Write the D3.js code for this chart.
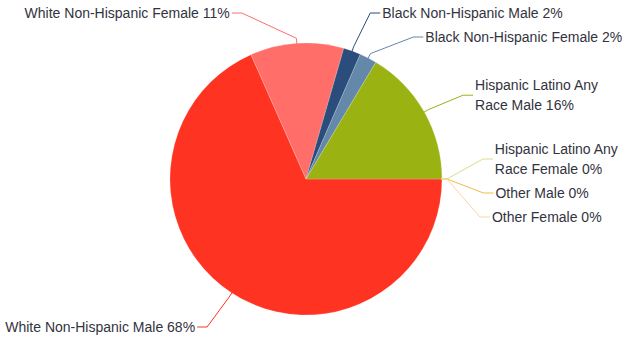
<!DOCTYPE html>
<html><head><meta charset="utf-8">
<script src="https://cdn.jsdelivr.net/npm/d3@7"></script>
<style>body{margin:0;background:#fff}svg{display:block}</style>
</head><body>
<svg id="c" width="624" height="341"></svg>
<script>
const categories = ["Hispanic Latino Any Race Female","Other Male","Other Female","White Non-Hispanic Male","White Non-Hispanic Female","Black Non-Hispanic Male","Black Non-Hispanic Female","Hispanic Latino Any Race Male"];
const values = [0, 0, 0, 68.3, 11.1, 2.05, 2.05, 16.4];
const colors = ["#d4df8c","#f0bd45","#f7d8a2","#ff3322","#ff6e69","#2b4d7b","#6388a9","#9ab313"];

const W = 624, H = 341, cx = 306, cy = 179, r = 136, labelR = 178, pad = 12, lineH = 20, bias = 4;
const svg = d3.select("#c");
const total = d3.sum(values);
const pie = d3.pie().sort(null).value(d => d).startAngle(Math.PI/2).endAngle(Math.PI/2 + 2*Math.PI);
const arcs = pie(values);
const arc = d3.arc().innerRadius(0).outerRadius(r);

const g = svg.append("g").attr("transform", `translate(${cx},${cy})`);
g.selectAll("path").data(arcs).join("path")
  .attr("d", arc).attr("fill", (d,i) => colors[i])
  .attr("stroke", "rgba(255,255,255,0.35)").attr("stroke-width", 0.5).attr("stroke-linejoin","round");

const font = "14px 'Liberation Sans', Arial, sans-serif";
const meas = svg.append("text").style("font", font).attr("visibility","hidden");
function tw(s){ meas.text(s); return meas.node().getComputedTextLength(); }
function wrap(s, maxW){
  const words = s.split(" "); const lines = []; let cur = "";
  for (const w of words){
    const t = cur ? cur + " " + w : w;
    if (cur && tw(t) > maxW){ lines.push(cur); cur = w; } else cur = t;
  }
  lines.push(cur); return lines;
}
function getX(y, left){
  const dy = Math.max(-labelR, Math.min(labelR, y - cy));
  return cx + (left ? -1 : 1) * Math.sqrt(labelR*labelR - dy*dy);
}

const labels = arcs.map((a,i) => {
  const mid = (a.startAngle + a.endAngle)/2;
  const left = Math.sin(mid) < -1e-9;
  const ny = cy - labelR*Math.cos(mid);
  const text = categories[i] + " " + Math.round(values[i]/total*100) + "%";
  const nx = getX(ny, left);
  const avail = left ? nx - pad - 2 : W - (nx + pad) - 2;
  const lines = wrap(text, avail);
  return {i, mid, left, ny, lines, h: 24 + lineH*(lines.length-1)};
});

function distribute(list, lo, hi){
  list.sort((a,b) => a.ny - b.ny);
  const cl = [];
  for (const l of list){
    cl.push({items:[l]});
    while (true){
      const c = cl[cl.length-1];
      const Hc = d3.sum(c.items, d => d.h);
      const center = d3.mean(c.items, d => d.ny) + bias;
      let top = center - Hc/2;
      top = Math.max(lo, Math.min(hi - Hc, top));
      c.top = top; c.H = Hc;
      if (cl.length > 1){
        const p = cl[cl.length-2];
        if (p.top + p.H > top){ p.items = p.items.concat(c.items); cl.pop(); continue; }
      }
      break;
    }
  }
  for (const c of cl){ let t = c.top; for (const l of c.items){ l.y = t + l.h/2; t += l.h; } }
}
distribute(labels.filter(l => l.left), 1, H - 2);
distribute(labels.filter(l => !l.left), 1, H - 2);

labels.forEach(l => {
  const bx = getX(l.y, l.left);
  const s = l.left ? -1 : 1;
  const p2 = [cx + (r+5)*Math.sin(l.mid), cy - (r+5)*Math.cos(l.mid)];
  const p3 = [cx + (r-1)*Math.sin(l.mid), cy - (r-1)*Math.cos(l.mid)];
  const path = d3.path();
  path.moveTo(bx + s*10, l.y); path.lineTo(bx, l.y); path.lineTo(p2[0], p2[1]); path.lineTo(p3[0], p3[1]);
  svg.append("path").attr("d", path.toString()).attr("fill","none")
    .attr("stroke", colors[l.i]).attr("stroke-width", 1);
  const tx = bx + s*pad;
  const t = svg.append("text").style("font", font).attr("fill", "#333340")
    .attr("text-anchor", l.left ? "end" : "start");
  const n = l.lines.length;
  l.lines.forEach((ln, k) => {
    t.append("tspan").attr("x", tx).attr("y", l.y + 5 + (k - (n-1)/2)*lineH).text(ln);
  });
});
meas.remove();
</script>
</body></html>
